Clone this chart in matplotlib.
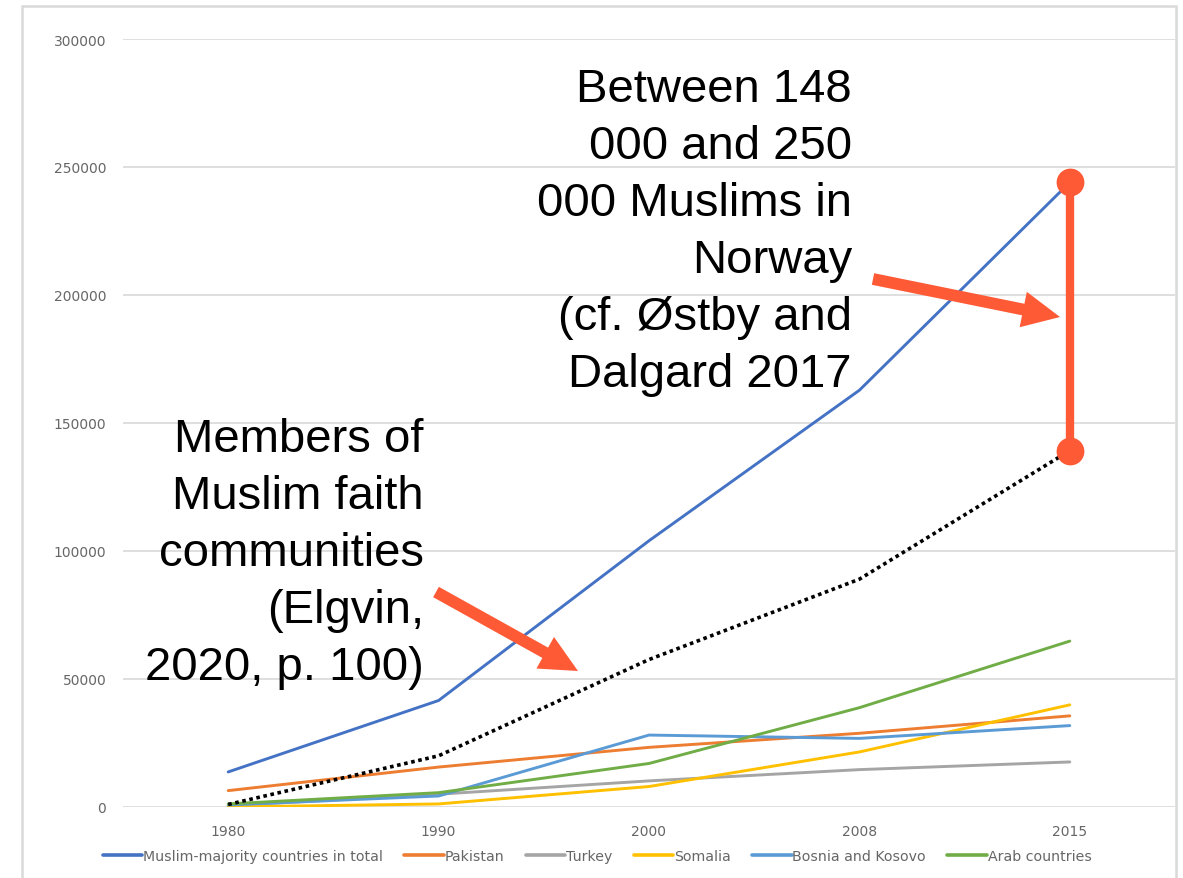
import matplotlib
matplotlib.use("Agg")
import matplotlib.pyplot as plt
from matplotlib.patches import Rectangle

years = ["1980", "1990", "2000", "2008", "2015"]
muslim_total = [13700, 41600, 104000, 162800, 244000]
pakistan = [6400, 15600, 23300, 28800, 35600]
turkey = [500, 5000, 10200, 14600, 17600]
somalia = [0, 1200, 8000, 21500, 39900]
bosnia = [800, 4300, 28100, 26800, 31800]
arab = [1200, 5600, 17000, 38800, 64800]
faith_members = [1000, 20000, 57600, 89000, 139200]

series_names = ["Muslim-majority countries in total", "Pakistan", "Turkey",
                "Somalia", "Bosnia and Kosovo", "Arab countries"]
series_colors = ["#4472C4", "#ED7D31", "#A5A5A5", "#FFC000", "#5B9BD5", "#70AD47"]
y_ticks = [0, 50000, 100000, 150000, 200000, 250000, 300000]

W, H = 1183, 879
fig = plt.figure(figsize=(W / 100, H / 100), dpi=100)
ax = fig.add_axes([123 / W, 1 - 808 / H, (1175 - 123) / W, (808 - 40) / H])

x = list(range(len(years)))
all_series = [muslim_total, pakistan, turkey, somalia, bosnia, arab]
for vals, name, col in zip(all_series, series_names, series_colors):
    ax.plot(x, vals, color=col, lw=2.1, label=name, zorder=3, solid_capstyle="round")

ax.plot(x, faith_members, color="black", lw=2.6, linestyle=(0, (1, 1.0)), zorder=4)

ax.set_xlim(-0.5, len(years) - 0.5)
ax.set_ylim(0, 300000)
ax.set_yticks(y_ticks)
ax.set_yticklabels([str(v) for v in y_ticks])
ax.set_xticks(x)
ax.set_xticklabels(years)
ax.tick_params(axis="both", length=0, labelsize=10, labelcolor="#666666")
ax.tick_params(axis="y", pad=12)
ax.tick_params(axis="x", pad=12)
ax.grid(axis="y", color="#D9D9D9", lw=1.2)
ax.set_axisbelow(True)
for s in ax.spines.values():
    s.set_visible(False)

leg = fig.legend(loc="center", bbox_to_anchor=(597 / W, 1 - 857 / H), ncol=6,
                 frameon=False, fontsize=10.2, handlelength=2.8, handletextpad=0.05,
                 columnspacing=1.5)
for t in leg.get_texts():
    t.set_color("#666666")
for ln in leg.get_lines():
    ln.set_linewidth(2.6)

# figure border
fig.add_artist(Rectangle((22 / W, -0.02), (1176 - 22) / W, (H - 7) / H + 0.02,
                         transform=fig.transFigure, fill=False, ec="#D9D9D9", lw=1.8))

red = "#FF5A36"
# range bar at 2015
ax.plot([x[-1], x[-1]], [faith_members[-1], muslim_total[-1]], color=red, lw=6,
        marker="o", markersize=19, zorder=6, solid_capstyle="butt")

# annotation texts
right_lines = ["Between 148", "000 and 250", "000 Muslims in", "Norway",
               "(cf. Østby and", "Dalgard 2017"]
right_base = [102, 159, 216, 273, 330, 387]
for s, yb in zip(right_lines, right_base):
    fig.text(852 / W, 1 - yb / H, s, ha="right", va="baseline", fontsize=34,
             family="Liberation Sans", color="black", zorder=7)

left_lines = ["Members of", "Muslim faith", "communities", "(Elgvin,", "2020, p. 100)"]
left_base = [452, 509, 566, 623, 680]
for s, yb in zip(left_lines, left_base):
    fig.text(424 / W, 1 - yb / H, s, ha="right", va="baseline", fontsize=34,
             family="Liberation Sans", color="black", zorder=7)

arrow_style = "simple,head_length=2.7,head_width=2.6,tail_width=0.85"
for (x0, y0), (x1, y1) in [((873, 280), (1060, 318)), ((436, 593), (578, 672))]:
    ax.annotate("", xy=(x1, H - y1), xytext=(x0, H - y0), xycoords="figure pixels",
                textcoords="figure pixels",
                arrowprops=dict(arrowstyle=arrow_style, mutation_scale=10, color=red,
                                shrinkA=0, shrinkB=0, lw=0), zorder=8)

fig.savefig("out.png", dpi=100)
